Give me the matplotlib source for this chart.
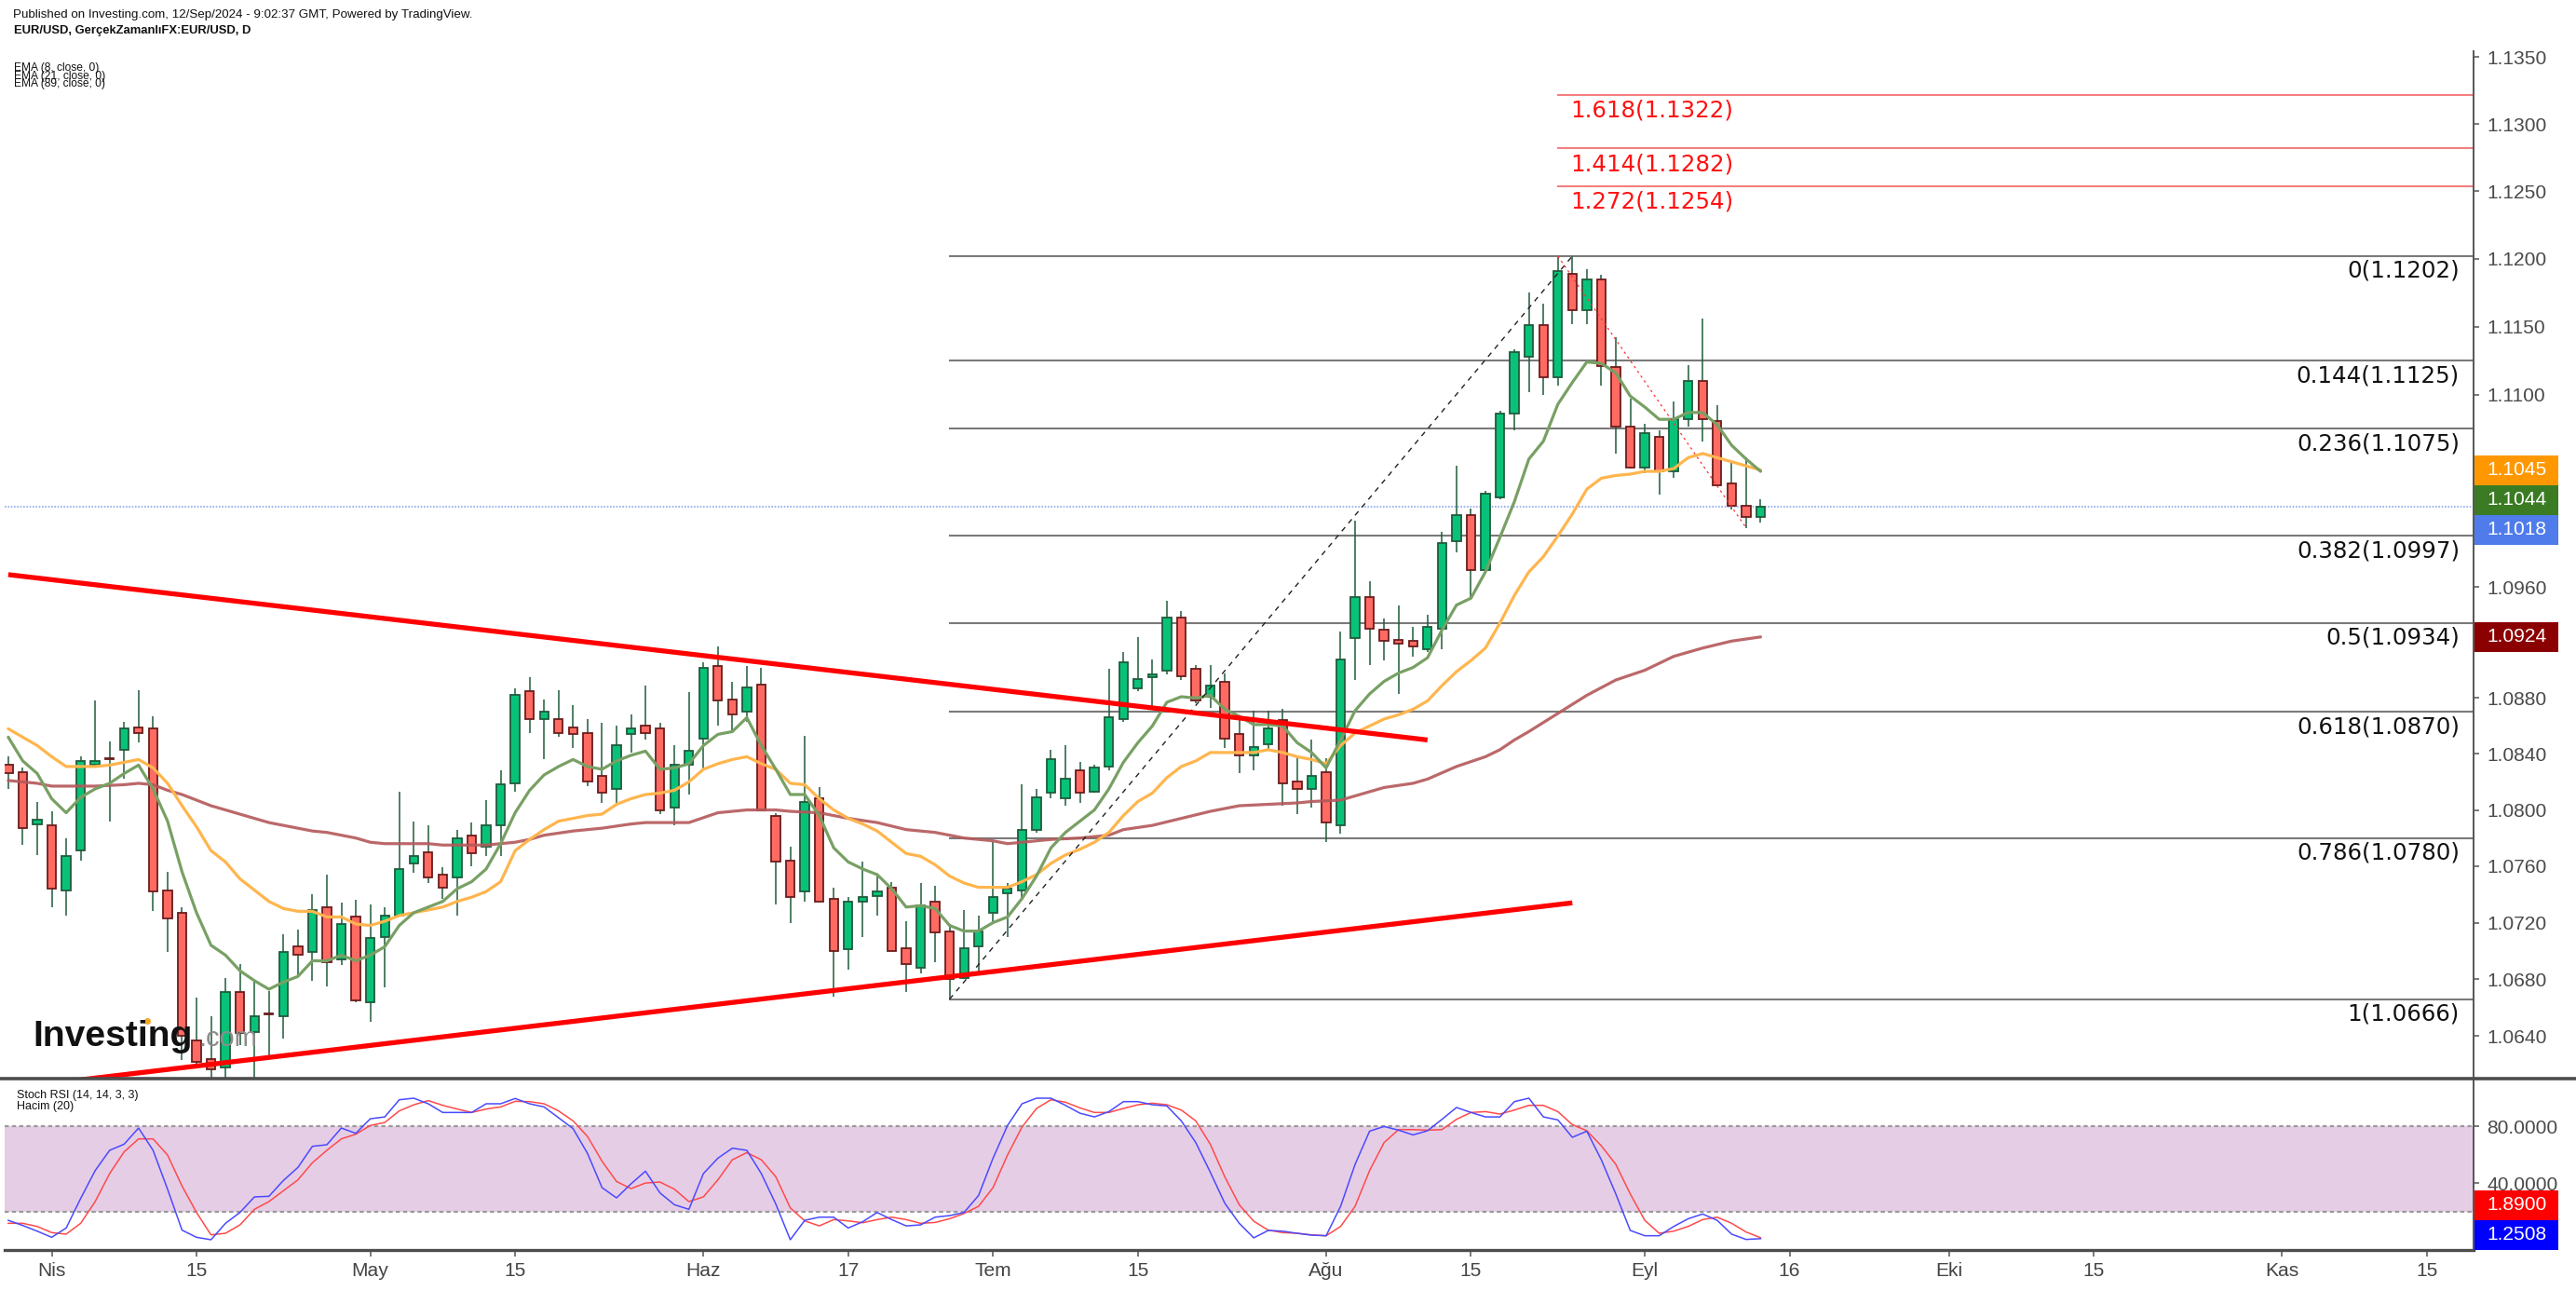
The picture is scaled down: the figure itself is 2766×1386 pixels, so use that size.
import numpy as np
import pandas as pd
import matplotlib
matplotlib.use("Agg")
import matplotlib.pyplot as plt
from matplotlib import font_manager as fm
from matplotlib.patches import Rectangle
from matplotlib.lines import Line2D
from matplotlib.ticker import FixedLocator, NullLocator, NullFormatter, FuncFormatter
from matplotlib.transforms import IdentityTransform, blended_transform_factory

# ---------------- data ----------------
start_date = "2024-03-27"
end_date = "2024-09-12"

opens = [1.0832, 1.0827, 1.0790,
         1.0789, 1.0743, 1.0771, 1.0832, 1.0837, 1.0843, 1.0859, 1.0858, 1.0743, 1.0727,
         1.0637, 1.0624, 1.0618, 1.0671, 1.0643, 1.0656, 1.0654, 1.0703, 1.0699, 1.0731,
         1.0694, 1.0724,
         1.0664, 1.0710, 1.0725, 1.0762, 1.0770, 1.0754, 1.0752, 1.0782, 1.0774, 1.0789,
         1.0819, 1.0885, 1.0865, 1.0865, 1.0859, 1.0855, 1.0824, 1.0815, 1.0854, 1.0860,
         1.0858, 1.0802, 1.0832,
         1.0851, 1.0903, 1.0879, 1.0870, 1.0890, 1.0796, 1.0764, 1.0742, 1.0808, 1.0737,
         1.0701, 1.0735, 1.0739, 1.0745, 1.0702, 1.0688, 1.0735, 1.0714, 1.0681, 1.0703,
         1.0727, 1.0741, 1.0743, 1.0786, 1.0812, 1.0808, 1.0828, 1.0813, 1.0831, 1.0865,
         1.0887, 1.0895, 1.0900, 1.0938, 1.0901, 1.0881, 1.0892, 1.0854, 1.0839, 1.0847,
         1.0864, 1.0820, 1.0815,
         1.0827, 1.0789, 1.0923, 1.0953, 1.0929, 1.0922, 1.0921, 1.0915, 1.0930, 1.0993,
         1.1012, 1.0972, 1.1025, 1.1086, 1.1128, 1.1151, 1.1113, 1.1189, 1.1162, 1.1185,
         1.1120, 1.1077,
         1.1047, 1.1069, 1.1044, 1.1082, 1.1110, 1.1081, 1.1035, 1.1019, 1.1011]
highs = [1.0838, 1.0830, 1.0806,
         1.0799, 1.0780, 1.0838, 1.0878, 1.0849, 1.0863, 1.0886, 1.0867, 1.0756, 1.0731,
         1.0667, 1.0654, 1.0681, 1.0691, 1.0679, 1.0672, 1.0712, 1.0715, 1.0740, 1.0754,
         1.0734, 1.0736,
         1.0733, 1.0731, 1.0813, 1.0792, 1.0789, 1.0759, 1.0786, 1.0791, 1.0807, 1.0828,
         1.0887, 1.0895, 1.0879, 1.0886, 1.0875, 1.0865, 1.0862, 1.0860, 1.0868, 1.0889,
         1.0862, 1.0846, 1.0884,
         1.0906, 1.0917, 1.0892, 1.0903, 1.0902, 1.0798, 1.0774, 1.0853, 1.0816, 1.0745,
         1.0738, 1.0763, 1.0754, 1.0749, 1.0721, 1.0748, 1.0746, 1.0719, 1.0729, 1.0725,
         1.0777, 1.0748, 1.0818, 1.0815, 1.0843, 1.0846, 1.0834, 1.0832, 1.0901, 1.0913,
         1.0924, 1.0908, 1.0950, 1.0943, 1.0904, 1.0904, 1.0898, 1.0867, 1.0871, 1.0871,
         1.0872, 1.0837, 1.0850,
         1.0837, 1.0928, 1.1008, 1.0964, 1.0937, 1.0947, 1.0931, 1.0940, 1.1000, 1.1048,
         1.1017, 1.1030, 1.1088, 1.1133, 1.1175, 1.1167, 1.1201, 1.1202, 1.1192, 1.1188,
         1.1142, 1.1097,
         1.1079, 1.1074, 1.1095, 1.1122, 1.1156, 1.1092, 1.1051, 1.1054, 1.1024]
lows = [1.0815, 1.0775, 1.0768,
        1.0731, 1.0725, 1.0764, 1.0830, 1.0792, 1.0822, 1.0848, 1.0728, 1.0699, 1.0623,
        1.0620, 1.0601, 1.0600, 1.0634, 1.0610, 1.0625, 1.0638, 1.0682, 1.0679, 1.0675,
        1.0690, 1.0664,
        1.0650, 1.0674, 1.0724, 1.0755, 1.0748, 1.0737, 1.0725, 1.0760, 1.0767, 1.0767,
        1.0813, 1.0855, 1.0836, 1.0852, 1.0844, 1.0817, 1.0805, 1.0805, 1.0841, 1.0850,
        1.0797, 1.0789, 1.0811,
        1.0828, 1.0860, 1.0855, 1.0863, 1.0800, 1.0733, 1.0720, 1.0735, 1.0735, 1.0668,
        1.0687, 1.0710, 1.0725, 1.0700, 1.0671, 1.0684, 1.0692, 1.0666, 1.0680, 1.0685,
        1.0721, 1.0710, 1.0737, 1.0784, 1.0808, 1.0803, 1.0805, 1.0812, 1.0828, 1.0863,
        1.0885, 1.0873, 1.0897, 1.0893, 1.0876, 1.0873, 1.0844, 1.0826, 1.0828, 1.0843,
        1.0803, 1.0797, 1.0802,
        1.0777, 1.0783, 1.0893, 1.0904, 1.0907, 1.0883, 1.0910, 1.0913, 1.0915, 1.0985,
        1.0951, 1.0971, 1.1024, 1.1074, 1.1102, 1.1100, 1.1107, 1.1152, 1.1152, 1.1107,
        1.1057, 1.1046,
        1.1043, 1.1027, 1.1039, 1.1077, 1.1066, 1.1033, 1.1016, 1.1003, 1.1007]
closes = [1.0826, 1.0787, 1.0793,
          1.0744, 1.0767, 1.0835, 1.0835, 1.0836, 1.0858, 1.0855, 1.0742, 1.0723, 1.0640,
          1.0622, 1.0617, 1.0671, 1.0642, 1.0654, 1.0655, 1.0699, 1.0697, 1.0729, 1.0692,
          1.0719, 1.0665,
          1.0709, 1.0725, 1.0758, 1.0767, 1.0752, 1.0745, 1.0780, 1.0769, 1.0789, 1.0818,
          1.0882, 1.0865, 1.0870, 1.0855, 1.0854, 1.0820, 1.0812, 1.0846, 1.0858, 1.0855,
          1.0800, 1.0832, 1.0842,
          1.0902, 1.0878, 1.0868, 1.0888, 1.0800, 1.0763, 1.0738, 1.0806, 1.0735, 1.0700,
          1.0735, 1.0738, 1.0742, 1.0700, 1.0691, 1.0732, 1.0713, 1.0680, 1.0702, 1.0714,
          1.0738, 1.0744, 1.0786, 1.0809, 1.0836, 1.0822, 1.0812, 1.0830, 1.0866, 1.0906,
          1.0894, 1.0897, 1.0938, 1.0896, 1.0878, 1.0889, 1.0851, 1.0839, 1.0845, 1.0858,
          1.0819, 1.0815, 1.0824,
          1.0791, 1.0908, 1.0953, 1.0930, 1.0921, 1.0919, 1.0917, 1.0931, 1.0992, 1.1012,
          1.0972, 1.1028, 1.1086, 1.1131, 1.1151, 1.1113, 1.1191, 1.1162, 1.1185, 1.1121,
          1.1077, 1.1047,
          1.1072, 1.1044, 1.1082, 1.1110, 1.1082, 1.1034, 1.1019, 1.1011, 1.1018]

ema8 = [1.0852, 1.0835, 1.0826,
        1.0808, 1.0798, 1.0809, 1.0815, 1.0819, 1.0826, 1.0832, 1.0815, 1.0792, 1.0756,
        1.0727, 1.0704, 1.0697, 1.0686, 1.0679, 1.0673, 1.0678, 1.0682, 1.0693, 1.0693,
        1.0697, 1.0693,
        1.0697, 1.0703, 1.0718, 1.0727, 1.0731, 1.0735, 1.0744, 1.0749, 1.0758, 1.0776,
        1.0798, 1.0814, 1.0825, 1.0831, 1.0836, 1.0831, 1.0829, 1.0835, 1.0839, 1.0842,
        1.0829, 1.0830, 1.0833,
        1.0846, 1.0854, 1.0856, 1.0866, 1.0846, 1.0829, 1.0811, 1.0811, 1.0796, 1.0773,
        1.0763, 1.0758, 1.0754, 1.0744, 1.0731, 1.0732, 1.0730, 1.0718, 1.0714, 1.0714,
        1.0720, 1.0724, 1.0737, 1.0753, 1.0773, 1.0784, 1.0792, 1.0800, 1.0815, 1.0834,
        1.0848, 1.0860, 1.0877, 1.0881, 1.0880, 1.0882, 1.0872, 1.0867, 1.0861, 1.0861,
        1.0860, 1.0848, 1.0841,
        1.0830, 1.0850, 1.0871, 1.0883, 1.0892, 1.0898, 1.0902, 1.0909, 1.0929, 1.0947,
        1.0952, 1.0971, 1.0996, 1.1022, 1.1053, 1.1066, 1.1093, 1.1109, 1.1124, 1.1123,
        1.1116, 1.1099,
        1.1091, 1.1082, 1.1082, 1.1087, 1.1087, 1.1078, 1.1063, 1.1053, 1.1044]
ema21 = [1.0858, 1.0852, 1.0846,
         1.0838, 1.0831, 1.0831, 1.0831, 1.0832, 1.0834, 1.0836, 1.0830, 1.0819, 1.0803,
         1.0788, 1.0771, 1.0763, 1.0751, 1.0743, 1.0735, 1.0730, 1.0728, 1.0728, 1.0724,
         1.0724, 1.0719,
         1.0718, 1.0721, 1.0725, 1.0727, 1.0729, 1.0731, 1.0735, 1.0738, 1.0742, 1.0749,
         1.0771, 1.0779, 1.0786, 1.0792, 1.0794, 1.0796, 1.0797, 1.0804, 1.0808, 1.0811,
         1.0812, 1.0814, 1.0820,
         1.0829, 1.0833, 1.0836, 1.0838, 1.0833, 1.0829, 1.0819, 1.0818, 1.0808, 1.0800,
         1.0794, 1.0790, 1.0785, 1.0777, 1.0769, 1.0767, 1.0761, 1.0753, 1.0748, 1.0745,
         1.0745, 1.0745, 1.0749, 1.0754, 1.0762, 1.0768, 1.0772, 1.0777, 1.0784, 1.0796,
         1.0806, 1.0812, 1.0823, 1.0831, 1.0835, 1.0841, 1.0841, 1.0841, 1.0841, 1.0843,
         1.0841, 1.0838, 1.0836,
         1.0833, 1.0846, 1.0855, 1.0860, 1.0865, 1.0868, 1.0872, 1.0878, 1.0889, 1.0899,
         1.0907, 1.0916, 1.0934, 1.0954, 1.0971, 1.0982, 1.0997, 1.1013, 1.1031, 1.1039,
         1.1041, 1.1042,
         1.1044, 1.1044, 1.1046, 1.1054, 1.1057, 1.1054, 1.1051, 1.1048, 1.1045]

ema89_dates = ["2024-03-27", "2024-03-29", "2024-04-01", "2024-04-04", "2024-04-08", "2024-04-09",
               "2024-04-10", "2024-04-11", "2024-04-12", "2024-04-15", "2024-04-16", "2024-04-17",
               "2024-04-18", "2024-04-19", "2024-04-22", "2024-04-23", "2024-04-24", "2024-04-25",
               "2024-04-26", "2024-04-29", "2024-04-30", "2024-05-01", "2024-05-02", "2024-05-07",
               "2024-05-08", "2024-05-13", "2024-05-14", "2024-05-15", "2024-05-16", "2024-05-17",
               "2024-05-21", "2024-05-23", "2024-05-27", "2024-05-28", "2024-05-31", "2024-06-04",
               "2024-06-06", "2024-06-10", "2024-06-11", "2024-06-13", "2024-06-17", "2024-06-19",
               "2024-06-21", "2024-06-25", "2024-06-27", "2024-07-01", "2024-07-02", "2024-07-03",
               "2024-07-05", "2024-07-09", "2024-07-11", "2024-07-12", "2024-07-16", "2024-07-18",
               "2024-07-22", "2024-07-24", "2024-07-26", "2024-07-30", "2024-07-31", "2024-08-02",
               "2024-08-05", "2024-08-07", "2024-08-09", "2024-08-12", "2024-08-14", "2024-08-16",
               "2024-08-19", "2024-08-20", "2024-08-21", "2024-08-23", "2024-08-27", "2024-08-29",
               "2024-09-02", "2024-09-04", "2024-09-06", "2024-09-10", "2024-09-12"]
ema89_vals = [1.0821, 1.0819, 1.0817, 1.0817, 1.0818, 1.0819,
              1.0818, 1.0814, 1.0811, 1.0807, 1.0803, 1.0800,
              1.0797, 1.0794, 1.0791, 1.0789, 1.0787, 1.0785,
              1.0784, 1.0782, 1.0780, 1.0777, 1.0776, 1.0776,
              1.0775, 1.0775, 1.0776, 1.0777, 1.0779, 1.0782,
              1.0785, 1.0787, 1.0790, 1.0791, 1.0791, 1.0798,
              1.0800, 1.0800, 1.0799, 1.0798, 1.0794, 1.0791,
              1.0786, 1.0784, 1.0780, 1.0778, 1.0776, 1.0777,
              1.0779, 1.0780, 1.0782, 1.0786, 1.0789, 1.0794,
              1.0799, 1.0803, 1.0804, 1.0805, 1.0806, 1.0807,
              1.0810, 1.0816, 1.0819, 1.0822, 1.0831, 1.0838,
              1.0843, 1.0850, 1.0856, 1.0869, 1.0882, 1.0893,
              1.0900, 1.0910, 1.0916, 1.0921, 1.0924]

stoch_k = [14.1, 10.5, 6.5,
           2.2, 8.7, 29.4, 48.9, 63.1, 67.4, 78.7, 63.1, 35.9, 7.2,
           2.2, 0.5, 12.0, 19.6, 30.5, 30.9, 42.0, 51.1, 65.9, 67.0, 78.7, 75.0,
           85.2, 86.5, 98.5, 99.6, 95.7, 89.6, 89.6, 89.6, 95.7, 95.7, 99.4, 95.7, 93.5,
           85.9, 78.3, 60.9, 37.0, 29.8, 39.6, 48.5, 33.3, 25.0, 21.8,
           46.8, 57.6, 64.6, 63.1, 46.8, 25.5, 0.5, 14.1, 16.3, 16.3,
           8.7, 13.1, 19.6, 14.6, 10.2, 10.9, 16.3, 17.4, 19.6, 31.5,
           57.6, 80.5, 95.7, 99.6, 99.6, 94.6, 89.1, 86.5, 90.2, 97.2,
           97.2, 95.0, 94.2, 83.7, 68.5, 47.8, 26.1, 12.0, 1.8, 7.0, 6.5, 5.0, 3.7,
           3.3, 23.9, 53.3, 76.5, 79.8, 77.2, 73.9, 76.8, 84.8, 93.1, 89.6, 86.5,
           86.5, 97.2, 99.6, 86.5, 84.4, 72.2, 76.5, 56.5, 32.6, 7.0,
           3.3, 3.3, 9.8, 15.2, 18.5, 14.1, 4.4, 0.7, 1.2508]
stoch_d = [12.0, 12.0, 9.8,
           5.5, 4.4, 12.0, 27.2, 46.8, 62.0, 71.1, 71.1, 59.8, 38.1,
           19.6, 3.9, 5.0, 10.9, 21.8, 27.2, 34.8, 42.4, 54.4, 63.1, 71.1, 74.4,
           80.5, 82.6, 90.7, 95.0, 97.9, 94.6, 92.0, 89.6, 92.0, 93.5, 97.4, 97.2, 95.7,
           90.7, 83.7, 72.8, 55.5, 41.3, 36.3, 40.2, 40.9, 35.9, 27.2,
           30.5, 42.4, 56.5, 61.5, 56.5, 44.6, 22.8, 13.7, 10.2, 14.6,
           13.7, 12.4, 14.6, 16.3, 14.6, 12.0, 12.6, 15.2, 18.9, 23.9,
           37.0, 59.8, 79.4, 92.4, 98.5, 96.8, 92.8, 89.6, 89.6, 92.4,
           95.0, 96.1, 95.0, 91.3, 83.7, 67.4, 44.6, 25.0, 13.5, 7.2, 5.5, 5.0, 3.9,
           3.3, 9.8, 23.9, 48.9, 68.5, 77.6, 77.6, 77.2, 77.6, 84.8, 89.6, 90.2,
           88.5, 91.3, 94.6, 94.6, 90.2, 81.1, 76.8, 66.3, 53.3, 32.6,
           14.1, 5.0, 6.5, 9.8, 14.6, 16.3, 12.0, 5.9, 1.89]

fib_levels = ["0", "0.144", "0.236", "0.382", "0.5", "0.618", "0.786", "1"]
fib_prices = [1.1202, 1.1125, 1.1075, 1.0997, 1.0934, 1.0870, 1.0780, 1.0666]
fib_from = ("2024-06-26", 1.0666)
fib_to = ("2024-08-26", 1.1202)
ext_levels = ["1.272", "1.414", "1.618"]
ext_prices = [1.1254, 1.1282, 1.1322]
ext_from = ("2024-08-23", 1.1202)
ext_to = ("2024-09-11", 1.1003)
upper_trend = [("2024-03-27", 1.0969), ("2024-08-12", 1.0850)]
lower_trend = [("2024-04-01", 1.0607), ("2024-08-26", 1.0734)]
price_ticks = [1.1350, 1.1300, 1.1250, 1.1200, 1.1150, 1.1100, 1.0960, 1.0880,
               1.0840, 1.0800, 1.0760, 1.0720, 1.0680, 1.0640]
stoch_ticks = [80, 40]
x_tick_dates = ["2024-04-01", "2024-04-15", "2024-05-01", "2024-05-15", "2024-06-03",
                "2024-06-17", "2024-07-01", "2024-07-15", "2024-08-01", "2024-08-15",
                "2024-09-02", "2024-09-16", "2024-10-01", "2024-10-15", "2024-11-01",
                "2024-11-15"]
x_tick_labels = ["Nis", "15", "May", "15", "Haz", "17", "Tem", "15", "Ağu", "15",
                 "Eyl", "16", "Eki", "15", "Kas", "15"]

header1 = "Published on Investing.com, 12/Sep/2024 - 9:02:37 GMT, Powered by TradingView."
header2 = "EUR/USD, GerçekZamanlıFX:EUR/USD, D"
ema_legend = ["EMA (8, close, 0)", "EMA (21, close, 0)", "EMA (89, close, 0)"]
stoch_legend = ["Stoch RSI (14, 14, 3, 3)", "Hacim (20)"]

# ---------------- setup ----------------
W, H, DPI = 2766, 1386, 100


def pt(px):
    return px * 72.0 / DPI


avail = {f.name for f in fm.fontManager.ttflist}


def fam(*names):
    return [n for n in names if n in avail] + ["DejaVu Sans"]


NARROW = fam("Liberation Sans Narrow", "Liberation Sans")
SANS = fam("Liberation Sans")
HAS_NARROW = "Liberation Sans Narrow" in avail

cal = pd.bdate_range(start_date, "2024-11-29")


def xpos(d):
    return cal.get_loc(pd.Timestamp(d))


n = len(opens)
assert n == len(pd.bdate_range(start_date, end_date))
pos = np.arange(n)
o, h, l, c = map(np.array, (opens, highs, lows, closes))

fig = plt.figure(figsize=(W / DPI, H / DPI), dpi=DPI)
fig.patch.set_facecolor("white")

LEFT, RIGHT = 5, 2656
TOP, SEP, BOT = 55, 1158, 1342
ax = fig.add_axes([LEFT / W, 1 - SEP / H, (RIGHT - LEFT) / W, (SEP - TOP) / H])
ax2 = fig.add_axes([LEFT / W, 1 - BOT / H, (RIGHT - LEFT) / W, (BOT - SEP) / H])

XL = (-0.248, 170.23)
for a in (ax, ax2):
    a.set_xlim(*XL)
    a.set_facecolor("white")

ax.set_yscale("log")
ax.set_ylim(1.061021, 1.135446)
ax2.set_ylim(-6.7, 113.3)

# ---------------- main panel ----------------
WICK = "#1f5b3b"
UPC, UPE = "#08c27a", "#1f5b3b"
DNC, DNE = "#ff6b62", "#6b1c1c"

ax.vlines(pos, l, h, color=WICK, lw=1.1, zorder=3)
up = c > o
lo = np.minimum(o, c)
hi = np.maximum(o, c)
ax.bar(pos[up], (hi - lo)[up], bottom=lo[up], width=0.6, color=UPC,
       edgecolor=UPE, linewidth=1.3, zorder=4)
ax.bar(pos[~up], (hi - lo)[~up], bottom=lo[~up], width=0.6, color=DNC,
       edgecolor=DNE, linewidth=1.3, zorder=4)

# EMAs
ax.plot([xpos(d) for d in ema89_dates], ema89_vals, color="#b4585a", lw=2.3, alpha=0.9,
        zorder=5, solid_capstyle="round")
ax.plot(pos, ema21, color="#ffb54d", lw=2.3, zorder=5, solid_capstyle="round")
ax.plot(pos, ema8, color="#78a064", lw=2.3, zorder=5, solid_capstyle="round")

# last price dotted line
ax.axhline(closes[-1], color="#8ea6ee", lw=1.2, ls=(0, (1, 1)), zorder=2)

# Fibonacci retracement
f0 = xpos(fib_from[0])
for lev, pr in zip(fib_levels, fib_prices):
    ax.plot([f0, XL[1]], [pr, pr], color="#7a7a7a", lw=1.5, zorder=1.5)
    ax.annotate(f"{lev}({pr:.4f})", xy=(0.9943, pr),
                xycoords=blended_transform_factory(ax.transAxes, ax.transData),
                xytext=(0, -16), textcoords="offset pixels", ha="right", va="center",
                fontsize=pt(24.5), color="#111111", family="DejaVu Sans", zorder=7)
ax.plot([xpos(fib_from[0]), xpos(fib_to[0])], [fib_from[1], fib_to[1]],
        color="#222222", lw=1.0, ls=(0, (4, 4)), zorder=6)

# Fibonacci extension
e0 = xpos(ext_from[0])
for lev, pr in zip(ext_levels, ext_prices):
    ax.plot([e0, XL[1]], [pr, pr], color="#f47a7d", lw=1.4, zorder=1.5)
    ax.annotate(f"{lev}({pr:.4f})", xy=(e0, pr), xytext=(14, -17),
                textcoords="offset pixels", ha="left", va="center",
                fontsize=pt(24.5), color="#ff1010", family="DejaVu Sans", zorder=7)
ax.plot([xpos(ext_from[0]), xpos(ext_to[0])], [ext_from[1], ext_to[1]],
        color="#ff3030", lw=0.9, ls=(0, (2, 3)), zorder=6)

# trend lines
for tl in (upper_trend, lower_trend):
    ax.plot([xpos(tl[0][0]), xpos(tl[1][0])], [tl[0][1], tl[1][1]],
            color="#ff0000", lw=3.8, zorder=6, solid_capstyle="butt")

# axes styling main
ax.yaxis.tick_right()
ax.yaxis.set_major_locator(FixedLocator(price_ticks))
ax.yaxis.set_minor_locator(NullLocator())
ax.yaxis.set_minor_formatter(NullFormatter())
ax.yaxis.set_major_formatter(FuncFormatter(lambda v, _: f"{v:.4f}"))
ax.tick_params(axis="y", which="major", direction="out", length=4.3, width=1.1,
               color="#555555", labelcolor="#4a4a4a", labelsize=pt(21), pad=6)
ax.tick_params(axis="x", bottom=False, labelbottom=False)
for lab in ax.get_yticklabels():
    lab.set_family(SANS)
for s in ("left", "top", "bottom"):
    ax.spines[s].set_visible(False)
ax.spines["right"].set_color("#555555")
ax.spines["right"].set_linewidth(1.4)

# ---------------- stoch panel ----------------
ax2.axhspan(20, 80, color="#e6cde6", zorder=0, lw=0)
for v in (20, 80):
    ax2.axhline(v, color="#9a9a9a", lw=1.6, ls=(0, (2, 1.5)), zorder=1)
ax2.plot(pos, stoch_d, color="#ff4a4a", lw=1.1, zorder=3)
ax2.plot(pos, stoch_k, color="#4a4aff", lw=1.1, zorder=4)

ax2.yaxis.tick_right()
ax2.yaxis.set_major_locator(FixedLocator(stoch_ticks))
ax2.yaxis.set_major_formatter(FuncFormatter(lambda v, _: f"{v:.4f}"))
ax2.tick_params(axis="y", direction="out", length=4.3, width=1.1, color="#555555",
                labelcolor="#4a4a4a", labelsize=pt(21), pad=6)
ax2.set_xticks([xpos(d) for d in x_tick_dates])
ax2.set_xticklabels(x_tick_labels)
ax2.tick_params(axis="x", direction="out", length=5, width=1.1, color="#555555",
                labelcolor="#444444", labelsize=pt(21), pad=4)
for lab in ax2.get_yticklabels() + ax2.get_xticklabels():
    lab.set_family(SANS)
ax2.spines["left"].set_visible(False)
ax2.spines["top"].set_visible(False)
ax2.spines["right"].set_color("#555555")
ax2.spines["right"].set_linewidth(1.4)
ax2.spines["bottom"].set_color("#4d4d4d")
ax2.spines["bottom"].set_linewidth(2.4)

# separator line full width
fig.add_artist(Line2D([0, W], [H - SEP, H - SEP], transform=IdentityTransform(),
                      color="#4d4d4d", lw=2.6))

# ---------------- value boxes ----------------
BOX_X0, BOX_X1, BOX_H = 2657, 2747, 32


def data_to_top_px(axis, v):
    return H - axis.transData.transform((0, v))[1]


def draw_box(yc, color, text):
    fig.add_artist(Rectangle((BOX_X0, H - yc - BOX_H / 2), BOX_X1 - BOX_X0, BOX_H,
                             transform=IdentityTransform(), facecolor=color,
                             edgecolor="none"))
    fig.text(2670, H - yc, text, transform=IdentityTransform(), ha="left", va="center",
             color="white", fontsize=pt(21), family=SANS)


main_boxes = sorted([(ema21[-1], "#ff9800"), (ema8[-1], "#3b7b23"),
                     (closes[-1], "#4f7cea"), (ema89_vals[-1], "#8b0000")],
                    key=lambda t: -t[0])
prev = -1e9
for v, col in main_boxes:
    yc = max(data_to_top_px(ax, v), prev + BOX_H)
    draw_box(yc, col, f"{v:.4f}")
    prev = yc

st_boxes = sorted([(stoch_k[-1], "#0000ff"), (stoch_d[-1], "#ff0000")], key=lambda t: t[0])
prev = BOT - BOX_H / 2 + BOX_H
for v, col in st_boxes:
    yc = min(data_to_top_px(ax2, v), BOT - BOX_H / 2 - 0.5, prev - BOX_H)
    draw_box(yc, col, f"{v:.4f}")
    prev = yc

# ---------------- texts ----------------
hs = 15 if HAS_NARROW else 13.4
fig.text(14, H - 16, header1, transform=IdentityTransform(), family=NARROW,
         fontsize=pt(hs), va="center", ha="left", color="#111111")
fig.text(15, H - 33, header2, transform=IdentityTransform(), family=NARROW,
         fontsize=pt(15 if HAS_NARROW else 13), va="center", ha="left", color="#111111",
         weight="bold")
for i, t in enumerate(ema_legend):
    fig.text(15, H - (73 + 8.5 * i), t, transform=IdentityTransform(), family=NARROW,
             fontsize=pt(12), va="center", ha="left", color="#111111")
for i, t in enumerate(stoch_legend):
    fig.text(18, H - (1176 + 12 * i), t, transform=IdentityTransform(), family=NARROW,
             fontsize=pt(12.5), va="center", ha="left", color="#111111")

# Investing.com logo
fig.text(35, H - 1123, "Investing", transform=IdentityTransform(), family=SANS,
         fontsize=pt(39), weight="bold", color="#111111", va="baseline", ha="left")
fig.text(213, H - 1123, ".com", transform=IdentityTransform(), family=SANS,
         fontsize=pt(29), color="#8c8c8c", va="baseline", ha="left")
fig.add_artist(Line2D([158], [H - 1096], transform=IdentityTransform(), marker="o",
                      markersize=pt(7), color="#f5a623", markeredgewidth=0, lw=0))

fig.savefig("out.png", dpi=DPI, facecolor="white")
